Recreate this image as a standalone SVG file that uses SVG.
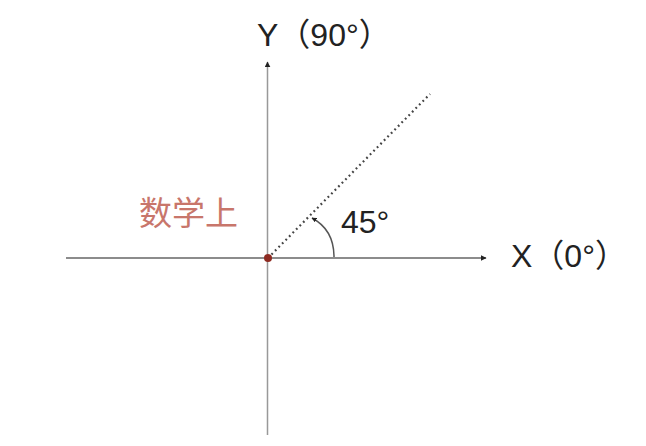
<svg xmlns="http://www.w3.org/2000/svg" width="646" height="446" viewBox="0 0 646 446">
<style>
.lbl{font-family:"Liberation Sans","Noto Sans CJK SC",sans-serif;font-size:32px;fill:#222}
.cjk{font-family:"Noto Sans CJK SC","Noto Sans CJK JP",sans-serif;font-size:33px;fill:#c8766b}
.axis{fill:none;stroke-width:1.5}
</style>
<defs>
<marker id="ah" viewBox="0 0 10 10" refX="9" refY="5" markerWidth="5" markerHeight="5" orient="auto" markerUnits="userSpaceOnUse">
<path d="M0,0 L10,5 L0,10 z" fill="#222"/>
</marker>
<marker id="ah2" viewBox="0 0 10 10" refX="9" refY="5" markerWidth="6" markerHeight="6" orient="auto" markerUnits="userSpaceOnUse">
<path d="M0,0 L10,5 L0,10 z" fill="#222"/>
</marker>
</defs>
<rect width="646" height="446" fill="#fff"/>
<g id="connectors">
<line class="axis" x1="66" y1="258" x2="486" y2="258" stroke="#666" marker-end="url(#ah2)"/>
<line class="axis" x1="267.5" y1="435" x2="267.5" y2="62" stroke="#999" marker-end="url(#ah2)"/>
<line x1="268" y1="258" x2="430" y2="94" stroke="#444" stroke-width="2.2" stroke-dasharray="1.8 3.2"/>
<path d="M334,257 C334,240 327,226 312,218" fill="none" stroke="#555" stroke-width="1.5" marker-end="url(#ah)"/>
</g>
<g id="origin"><circle cx="268" cy="258" r="4" fill="#8e2b22"/></g>
<g id="y-label"><text class="lbl" x="257" y="46">Y（90°）</text></g>
<g id="x-label"><text class="lbl" x="511" y="267">X（0°）</text></g>
<g id="angle-label"><text class="lbl" x="341" y="233">45°</text></g>
<g id="math-label"><text class="cjk" x="139" y="225">数学上</text></g>
</svg>
